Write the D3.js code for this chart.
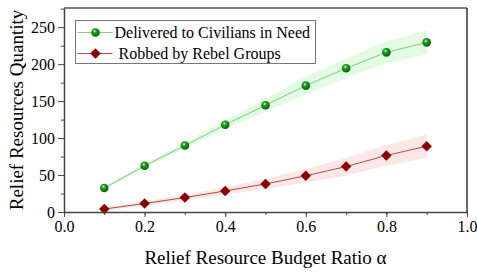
<!DOCTYPE html>
<html>
<head>
<meta charset="utf-8">
<script src="https://cdn.jsdelivr.net/npm/d3@7"></script>
<style>
  body { margin: 0; background: #fff; }
  svg { display: block; font-family: "Liberation Serif", "Times New Roman", serif; }
</style>
</head>
<body>
<svg></svg>
<script>
const width = 477;
const height = 274;

// data
const ratios = [0.1, 0.2, 0.3, 0.4, 0.5, 0.6, 0.7, 0.8, 0.9];
const delivered = [32.5, 62.5, 90, 118, 144.5, 171, 194.5, 216, 229.5];
const deliveredErr = [2, 3, 4, 6, 9, 12, 13, 15, 16];
const robbed = [4, 11.5, 19.5, 28.5, 38, 49, 61.5, 76.5, 89];
const robbedErr = [2, 3, 4, 5, 7, 9, 12, 14, 16];
const xTicks = [0, 0.2, 0.4, 0.6, 0.8, 1.0];
const yTicks = [0, 50, 100, 150, 200, 250];
const seriesNames = ["Delivered to Civilians in Need", "Robbed by Rebel Groups"];

let margin = {left: 64, right: 10, top: 8, bottom: 62};

let svg = d3.select("svg")
    .attr("width", width)
    .attr("height", height);

let scaleX = d3.scaleLinear()
    .domain([0, 1])
    .range([margin.left, width - margin.right]);

let scaleY = d3.scaleLinear()
    .domain([0, 276])
    .range([height - margin.bottom, margin.top]);

// gradients for the little spheres
let defs = svg.append("defs");
let g1 = defs.append("radialGradient").attr("id", "ball").attr("cx", "40%").attr("cy", "35%").attr("r", "65%");
g1.append("stop").attr("offset", "0%").attr("stop-color", "#e8ffe8");
g1.append("stop").attr("offset", "30%").attr("stop-color", "#22a022");
g1.append("stop").attr("offset", "100%").attr("stop-color", "#006400");

// bands
let area = (vals, errs) => d3.area()
    .x((d, i) => scaleX(ratios[i]))
    .y0((d, i) => scaleY(vals[i] - errs[i]))
    .y1((d, i) => scaleY(vals[i] + errs[i]));

svg.append("path")
    .datum(delivered)
    .attr("d", area(delivered, deliveredErr))
    .attr("fill", "#e3fae3");

svg.append("path")
    .datum(robbed)
    .attr("d", area(robbed, robbedErr))
    .attr("fill", "#fce6e6");

let line = vals => d3.line()
    .x((d, i) => scaleX(ratios[i]))
    .y(d => scaleY(d))(vals);

svg.append("path")
    .attr("d", line(delivered))
    .attr("fill", "none")
    .attr("stroke", "#80cc80")
    .attr("stroke-width", 1);

svg.append("path")
    .attr("d", line(robbed))
    .attr("fill", "none")
    .attr("stroke", "#b04a4a")
    .attr("stroke-width", 1);

// markers
svg.selectAll("circle.ball")
    .data(delivered)
    .enter()
    .append("circle")
    .attr("class", "ball")
    .attr("cx", (d, i) => scaleX(ratios[i]))
    .attr("cy", d => scaleY(d))
    .attr("r", 4.3)
    .attr("fill", "url(#ball)");

let diamond = d3.symbol().type(d3.symbolDiamond2).size(70);
svg.selectAll("path.dia")
    .data(robbed)
    .enter()
    .append("path")
    .attr("class", "dia")
    .attr("d", diamond)
    .attr("transform", (d, i) => `translate(${scaleX(ratios[i])},${scaleY(d)})`)
    .attr("fill", "#8b0000");

// frame (top + right)
svg.append("line")
    .attr("x1", scaleX(0)).attr("x2", scaleX(1))
    .attr("y1", scaleY(276)).attr("y2", scaleY(276))
    .attr("stroke", "#555").attr("stroke-width", 1.5);
svg.append("line")
    .attr("x1", scaleX(1)).attr("x2", scaleX(1))
    .attr("y1", scaleY(276)).attr("y2", scaleY(0))
    .attr("stroke", "#000").attr("stroke-width", 1.2);

// axes
let axisX = d3.axisBottom(scaleX)
    .tickValues(xTicks)
    .tickFormat(d3.format(".1f"))
    .tickSizeInner(5).tickSizeOuter(0).tickPadding(4);
let gx = svg.append("g")
    .attr("transform", `translate(0, ${scaleY(0)})`)
    .call(axisX);

let axisXMinor = d3.axisBottom(scaleX)
    .tickValues(ratios)
    .tickFormat("")
    .tickSizeInner(3).tickSizeOuter(0);
svg.append("g")
    .attr("transform", `translate(0, ${scaleY(0)})`)
    .call(axisXMinor)
    .select(".domain").remove();

let axisY = d3.axisLeft(scaleY)
    .tickValues(yTicks)
    .tickSizeInner(6).tickSizeOuter(0).tickPadding(3);
let gy = svg.append("g")
    .attr("transform", `translate(${scaleX(0)}, 0)`)
    .call(axisY);

let axisYMinor = d3.axisLeft(scaleY)
    .tickValues([25, 75, 125, 175, 225, 275])
    .tickFormat("")
    .tickSizeInner(3).tickSizeOuter(0);
svg.append("g")
    .attr("transform", `translate(${scaleX(0)}, 0)`)
    .call(axisYMinor)
    .select(".domain").remove();

svg.selectAll(".domain").attr("stroke", "#444").attr("stroke-width", 1.5);
svg.selectAll(".tick line").attr("stroke", "#444");
svg.selectAll(".tick text")
    .attr("font-family", "Liberation Serif, serif")
    .attr("font-size", 16)
    .attr("fill", "#000");

// axis titles
svg.append("text")
    .attr("x", (scaleX(0) + scaleX(1)) / 2)
    .attr("y", 264)
    .attr("text-anchor", "middle")
    .attr("font-size", 19)
    .text("Relief Resource Budget Ratio α");

svg.append("text")
    .attr("transform", `translate(23, ${(scaleY(0) + scaleY(276)) / 2}) rotate(-90)`)
    .attr("text-anchor", "middle")
    .attr("font-size", 19)
    .text("Relief Resources Quantity");

// legend
let legend = svg.append("g").attr("transform", "translate(75.5, 20.5)");
legend.append("rect")
    .attr("width", 240).attr("height", 43)
    .attr("fill", "#fff")
    .attr("stroke", "#777").attr("stroke-width", 1);

let rows = legend.selectAll("g.row")
    .data(seriesNames)
    .enter()
    .append("g")
    .attr("class", "row")
    .attr("transform", (d, i) => `translate(0, ${12 + i * 21})`);

rows.append("line")
    .attr("x1", 2).attr("x2", 37)
    .attr("stroke", (d, i) => i === 0 ? "#80cc80" : "#b04a4a");

rows.filter((d, i) => i === 0).append("circle")
    .attr("cx", 20).attr("r", 4.3).attr("fill", "url(#ball)");
rows.filter((d, i) => i === 1).append("path")
    .attr("d", diamond)
    .attr("transform", "translate(20,0)")
    .attr("fill", "#8b0000");

rows.append("text")
    .attr("x", (d, i) => i === 0 ? 39 : 43)
    .attr("y", 5.5)
    .attr("font-size", 16)
    .text(d => d);
</script>
</body>
</html>
